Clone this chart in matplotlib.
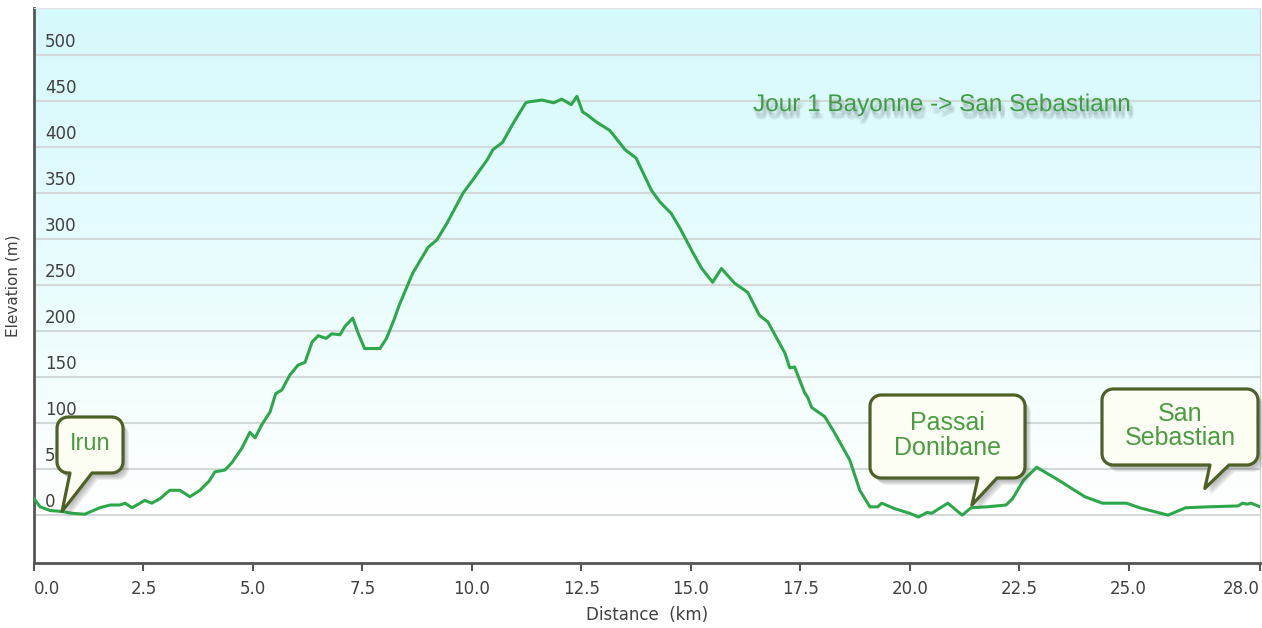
import numpy as np
import matplotlib
matplotlib.use("Agg")
import matplotlib.pyplot as plt
from matplotlib.patches import Polygon
from matplotlib.transforms import IdentityTransform
import matplotlib.patheffects as pe

# elevation profile (km, m)
dist = [0.0, 0.14, 0.37, 0.64, 0.87, 1.16, 1.5, 1.74, 1.96, 2.08, 2.24, 2.53, 2.69,
        2.88, 3.1, 3.33, 3.56, 3.79, 4.0, 4.13, 4.36, 4.52, 4.75, 4.93, 5.05, 5.2,
        5.39, 5.52, 5.66, 5.84, 6.03, 6.19, 6.35, 6.49, 6.67, 6.8, 6.99, 7.1, 7.28,
        7.4, 7.55, 7.9, 8.05, 8.22, 8.34, 8.65, 9.0, 9.2, 9.43, 9.8, 10.05, 10.35,
        10.48, 10.7, 10.96, 11.23, 11.3, 11.6, 11.87, 12.05, 12.27, 12.4, 12.53,
        12.6, 12.85, 13.15, 13.5, 13.75, 14.1, 14.3, 14.55, 14.75, 15.05, 15.25,
        15.5, 15.7, 16.0, 16.3, 16.57, 16.76, 17.15, 17.26, 17.37, 17.6, 17.67,
        17.76, 18.06, 18.29, 18.63, 18.86, 19.09, 19.27, 19.36, 19.66, 20.0, 20.2,
        20.4, 20.5, 20.87, 21.2, 21.4, 21.76, 22.2, 22.35, 22.6, 22.9, 23.08, 23.4,
        24.0, 24.4, 24.95, 25.25, 25.9, 26.0, 26.3, 26.8, 27.5, 27.6, 27.7, 27.8, 28.0]
elev = [18, 9, 5, 4, 2, 1, 8, 11, 11, 13, 8, 16, 13,
        18, 27, 27, 20, 27, 37, 47, 49, 57, 73, 90, 84, 98,
        112, 132, 136, 152, 163, 166, 188, 195, 192, 197, 196, 205, 214,
        198, 181, 181, 192, 212, 228, 263, 291, 299, 317, 350, 366, 386,
        397, 405, 427, 448, 449, 451, 448, 452, 446, 455, 438,
        436, 427, 418, 397, 388, 353, 340, 328, 312, 285, 268,
        253, 268, 252, 242, 217, 210, 176, 160, 161, 133, 128,
        117, 107, 89, 60, 27, 9, 9, 13, 7, 2, -2,
        3, 2, 13, 0, 8, 9, 11, 18, 38, 52, 47, 38,
        20, 13, 13, 8, 0, 2, 8, 9, 10, 13, 12, 13, 9]

x_ticks = [0, 2.5, 5, 7.5, 10, 12.5, 15, 17.5, 20, 22.5, 25, 28]
x_labels = ["0.0", "2.5", "5.0", "7.5", "10.0", "12.5", "15.0", "17.5",
            "20.0", "22.5", "25.0", "28.0"]
y_ticks = [0, 50, 100, 150, 200, 250, 300, 350, 400, 450, 500]

title = "Jour 1 Bayonne -> San Sebastiann"
# label, point the bubble refers to (km, m)
places = ["Irun", "Passai\nDonibane", "San\nSebastian"]
place_km = [0.64, 21.42, 26.74]
place_m = [4, 11, 29]

W, H = 1262, 628
fig = plt.figure(figsize=(W / 100, H / 100), dpi=100)
ax = fig.add_axes([34 / W, 65 / H, 1226 / W, 555 / H])

# pale cyan -> white background
top = np.array([0.84, 0.978, 0.99])
t = np.linspace(0, 1, 256)[:, None]
k = np.clip(t / 0.9, 0, 1) ** 1.2
grad = (top + (1 - top) * k)[:, None, :]
ax.imshow(grad, extent=[0, 1, 0, 1], transform=ax.transAxes, aspect="auto",
          origin="upper", zorder=0)
ax.set_xlim(0, 28)
ax.set_ylim(-52, 551)

ax.set_yticks(y_ticks)
ax.grid(axis="y", color="#d3d8d8", lw=1.5, zorder=1)
ax.tick_params(axis="y", length=0, labelleft=False)
for v in y_ticks:
    ax.annotate(str(v), xy=(0, v), xycoords=("axes fraction", "data"),
                xytext=(8, 3), textcoords="offset points", ha="left", va="bottom",
                fontsize=12, color="#404040", zorder=2)

ax.set_xticks(x_ticks)
ax.set_xticklabels(x_labels, fontsize=12, color="#404040")
labs = ax.get_xticklabels()
labs[0].set_ha("left")
labs[-1].set_ha("right")
ax.tick_params(axis="x", length=6, width=1.5, color="#555555", pad=6)

for s in ["left", "bottom"]:
    ax.spines[s].set_color("#555555")
    ax.spines[s].set_linewidth(2)
ax.spines["top"].set_color("#e2e6e6")
ax.spines["right"].set_color("#d0d4d4")

ax.set_xlabel("Distance  (km)", fontsize=12, color="#404040", labelpad=6)
ax.set_ylabel("Elevation (m)", fontsize=11, color="#404040")
ax.yaxis.set_label_coords(-0.011, 0.5)

ax.plot(dist, elev, color="#2ca84a", lw=2.2, zorder=3, solid_joinstyle="round")

# blurry drop shadow under the title
shadow = [pe.SimplePatchShadow(offset=(dx, dy), shadow_rgbFace="#404040", alpha=0.07)
          for dx, dy in [(0, -2), (1, -3), (2, -4), (3, -5), (1, -5), (2, -6), (3, -3)]]
ax.text(0.74, 0.825, title, transform=ax.transAxes, ha="center", va="center",
        fontsize=17.5, family="Liberation Sans", color="#3e9e45", zorder=4,
        path_effects=shadow + [pe.Normal()])


def bubble(x0, y0, x1, y1, r, p0, p1, tip):
    # rounded box with a pointer on the bottom side, display coords
    pts = []

    def arc(cx, cy, a0, a1):
        for a in np.linspace(np.radians(a0), np.radians(a1), 8):
            pts.append((cx + r * np.cos(a), cy + r * np.sin(a)))

    arc(x0 + r, y0 + r, 180, 270)
    pts += [(p0, y0), tip, (p1, y0)]
    arc(x1 - r, y0 + r, 270, 360)
    arc(x1 - r, y1 - r, 0, 90)
    arc(x0 + r, y1 - r, 90, 180)
    return np.array(pts)


# boxes in picture pixels from the top-left: x0, y0, x1, y1, pointer base, font size
boxes = [(57, 417, 123, 473, 70, 92, 17),
         (870, 395, 1025, 478, 978, 997, 18),
         (1102, 389, 1258, 465, 1210, 1229, 18)]

for name, km, m, b in zip(places, place_km, place_m, boxes):
    bx0, by0, bx1, by1, p0, p1, fs = b
    tip = tuple(ax.transData.transform((km, m)))
    pts = bubble(bx0, H - by1, bx1, H - by0, 11, p0, p1, tip)
    for dx, dy in [(6, -7), (5, -6), (4, -5), (3, -4), (2, -3)]:
        sh = Polygon(pts + [dx, dy], closed=True, transform=IdentityTransform(),
                     facecolor="#555555", edgecolor="none", alpha=0.09, zorder=5)
        fig.add_artist(sh)
    fig.add_artist(Polygon(pts, closed=True, transform=IdentityTransform(),
                           facecolor="#fcfdf3", edgecolor="#4d6127", lw=2.3,
                           joinstyle="round", zorder=6))
    fig.text((bx0 + bx1) / 2, H - (by0 + by1) / 2 + 1, name,
             transform=IdentityTransform(), ha="center", va="center",
             fontsize=fs, family="Liberation Sans", color="#4c9c42",
             linespacing=1.05, zorder=7)

fig.savefig("out.png", dpi=100)
